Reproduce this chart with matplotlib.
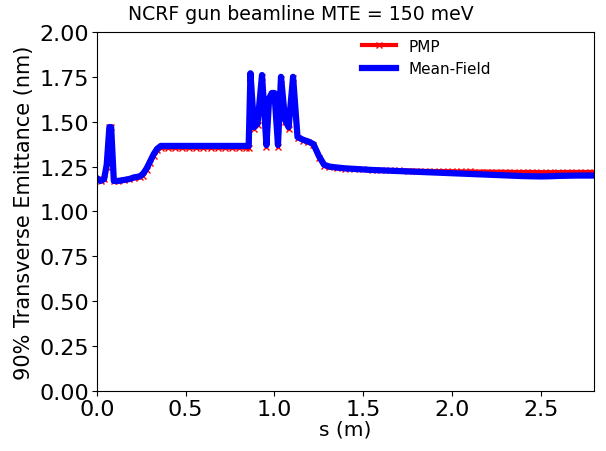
import numpy as np
import matplotlib.pyplot as plt

# beamline positions (m)
s = [0.00, 0.02, 0.04, 0.055, 0.07, 0.08, 0.095, 0.12, 0.15, 0.18,
     0.21, 0.24, 0.26, 0.28, 0.30, 0.32, 0.34, 0.36, 0.40, 0.44,
     0.48, 0.52, 0.56, 0.60, 0.64, 0.68, 0.72, 0.76, 0.80, 0.84,
     0.855, 0.865, 0.885, 0.905, 0.93, 0.955, 0.97, 0.985, 1.00, 1.02,
     1.037, 1.06, 1.08, 1.105, 1.13, 1.16, 1.19, 1.22, 1.25, 1.28,
     1.31, 1.35, 1.40, 1.45, 1.50, 1.55, 1.60, 1.65, 1.70, 1.75,
     1.80, 1.85, 1.90, 1.95, 2.00, 2.05, 2.10, 2.15, 2.20, 2.25,
     2.30, 2.35, 2.40, 2.45, 2.50, 2.55, 2.60, 2.65, 2.70, 2.75, 2.80]

# 90% transverse emittance (nm)
pmp = [1.18, 1.17, 1.18, 1.25, 1.47, 1.47, 1.17, 1.17, 1.175, 1.18,
       1.185, 1.19, 1.20, 1.23, 1.27, 1.31, 1.34, 1.355, 1.355, 1.355,
       1.355, 1.355, 1.355, 1.355, 1.355, 1.355, 1.355, 1.355, 1.355, 1.355,
       1.355, 1.76, 1.46, 1.48, 1.75, 1.36, 1.62, 1.655, 1.655, 1.36,
       1.74, 1.50, 1.46, 1.745, 1.41, 1.395, 1.385, 1.37, 1.30, 1.255,
       1.245, 1.24, 1.238, 1.236, 1.234, 1.232, 1.231, 1.23, 1.229, 1.228,
       1.227, 1.226, 1.225, 1.225, 1.224, 1.223, 1.223, 1.222, 1.222, 1.221,
       1.221, 1.22, 1.22, 1.22, 1.219, 1.219, 1.219, 1.22, 1.22, 1.22, 1.22]

mean_field = [1.185, 1.17, 1.18, 1.26, 1.47, 1.47, 1.17, 1.17, 1.175, 1.18,
              1.19, 1.195, 1.21, 1.24, 1.28, 1.32, 1.35, 1.365, 1.365, 1.365,
              1.365, 1.365, 1.365, 1.365, 1.365, 1.365, 1.365, 1.365, 1.365, 1.365,
              1.365, 1.77, 1.47, 1.49, 1.76, 1.37, 1.63, 1.66, 1.66, 1.37,
              1.75, 1.51, 1.47, 1.75, 1.415, 1.40, 1.39, 1.375, 1.31, 1.26,
              1.25, 1.245, 1.24, 1.237, 1.234, 1.231, 1.229, 1.227, 1.225, 1.223,
              1.221, 1.219, 1.217, 1.215, 1.213, 1.211, 1.209, 1.207, 1.205, 1.203,
              1.201, 1.199, 1.197, 1.196, 1.195, 1.196, 1.198, 1.199, 1.20, 1.20, 1.20]

fig = plt.figure(figsize=(6.06, 4.52), dpi=100)
ax = fig.add_axes([0.160, 0.133, 0.820, 0.794])

ax.plot(s, pmp, color="red", lw=3, marker="x", ms=5, mew=1, label="PMP")
ax.plot(s, mean_field, color="blue", lw=4.5, label="Mean-Field")

ax.set_xlim(0, 2.8)
ax.set_ylim(0, 2.0)
ax.set_xticks([0.0, 0.5, 1.0, 1.5, 2.0, 2.5])
ax.set_yticks(np.arange(0, 2.01, 0.25))
ax.set_yticklabels([f"{v:.2f}" for v in np.arange(0, 2.01, 0.25)])
ax.tick_params(labelsize=16, pad=2)

ax.set_xlabel("s (m)", fontsize=14.5, labelpad=1)
ax.set_ylabel("90% Transverse Emittance (nm)", fontsize=15, labelpad=4)
fig.text(0.497, 0.955, "NCRF gun beamline MTE = 150 meV", fontsize=13.6,
         ha="center", va="baseline")

ax.legend(frameon=False, fontsize=11, loc="upper right",
          bbox_to_anchor=(0.82, 1.02), handlelength=2.2)

fig.savefig("out.png", dpi=100)
